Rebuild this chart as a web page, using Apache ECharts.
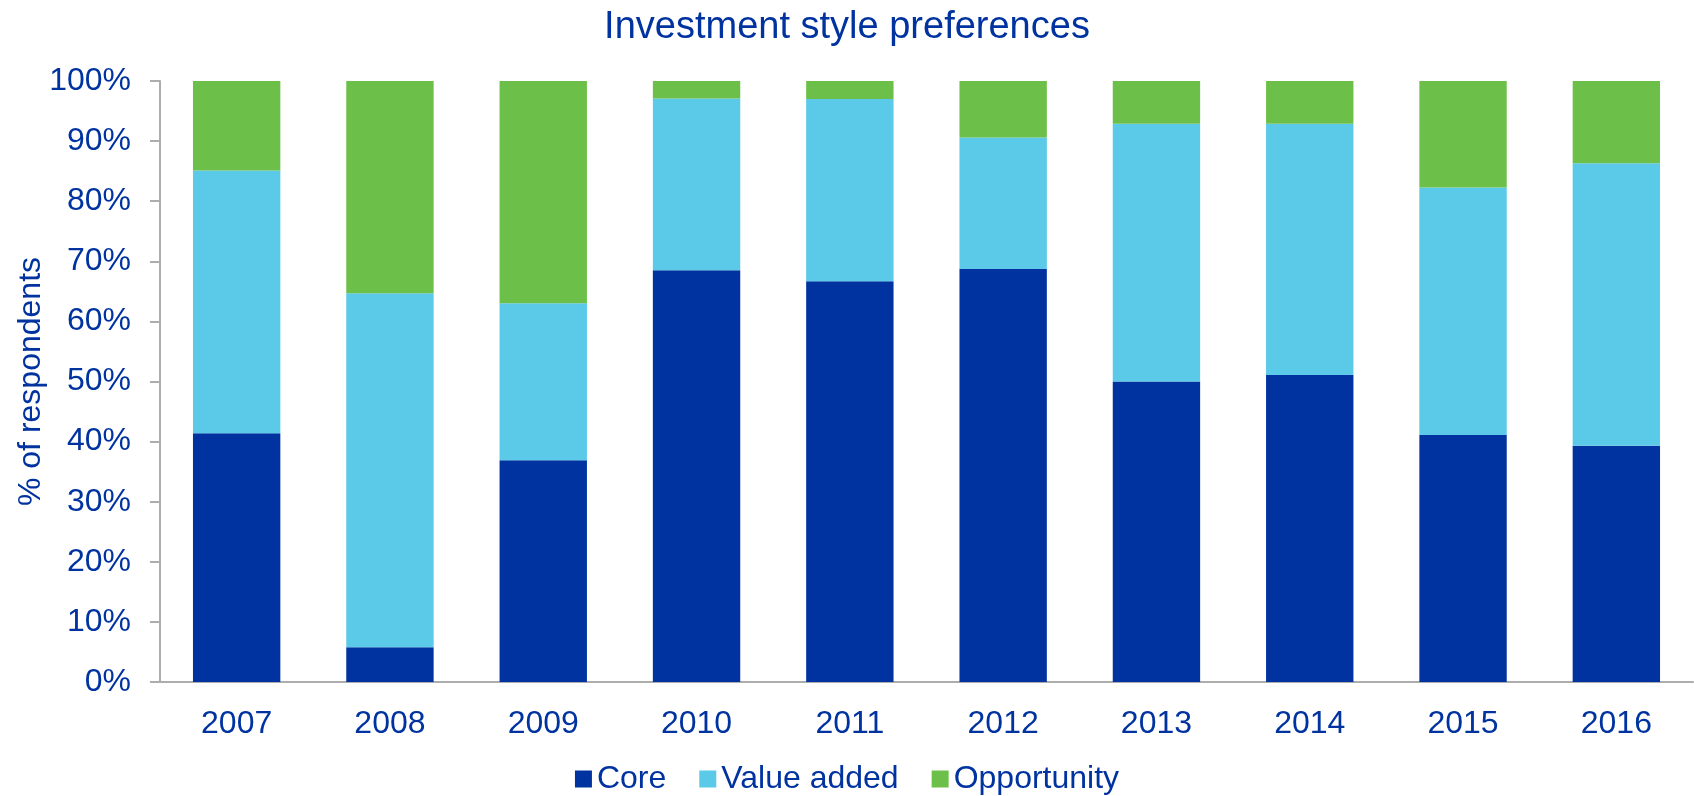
<!DOCTYPE html>
<html>
<head>
<meta charset="utf-8">
<script src="https://cdn.jsdelivr.net/npm/echarts@6/dist/echarts.min.js"></script>
<style>
html,body{margin:0;padding:0;background:#fff;}
#chart{width:1694px;height:796px;}
</style>
</head>
<body>
<div id="chart"></div>
<script>
const years = ['2007','2008','2009','2010','2011','2012','2013','2014','2015','2016'];
const core = [41.4, 5.8, 36.9, 68.5, 66.7, 68.7, 50.0, 51.1, 41.1, 39.3];
const valueAdded = [43.7, 58.9, 26.1, 28.6, 30.3, 21.9, 42.9, 41.8, 41.2, 47.0];
const opportunity = [14.9, 35.3, 37.0, 2.9, 3.0, 9.4, 7.1, 7.1, 17.7, 13.7];
const seriesNames = ['Core', 'Value added', 'Opportunity'];
const colors = ['#0033A0', '#5BC9E8', '#6CC04A'];

const txt = '#0033A0';
const font = 'Liberation Sans, Arial, sans-serif';
const chart = echarts.init(document.getElementById('chart'));
const mk = (name, data, color) => ({
  name, type: 'bar', stack: 'total', data,
  barCategoryGap: '43%',
  itemStyle: { color },
  emphasis: { disabled: true }
});
chart.setOption({
  animation: false,
  textStyle: { fontFamily: font },
  title: {
    text: 'Investment style preferences',
    left: 'center', top: 4,
    textStyle: { color: txt, fontSize: 38, fontWeight: 'normal', fontFamily: font }
  },
  legend: {
    data: seriesNames,
    top: 758, left: 'center',
    icon: 'rect', itemWidth: 17, itemHeight: 17, itemGap: 33,
    textStyle: { color: txt, fontSize: 32, fontFamily: font }
  },
  grid: { left: 160, right: 1, top: 81, bottom: 114, containLabel: false, outerBoundsMode: 'none' },
  xAxis: {
    type: 'category', data: years,
    axisLine: { lineStyle: { color: '#ADADAD', width: 2 } },
    axisTick: { show: false },
    axisLabel: { color: txt, fontSize: 32, margin: 26, fontFamily: font }
  },
  yAxis: {
    type: 'value', min: 0, max: 100, interval: 10,
    name: '% of respondents', nameLocation: 'middle', nameGap: 113, nameMoveOverlap: false,
    nameTextStyle: { color: txt, fontSize: 32, fontFamily: font },
    axisLine: { show: true, lineStyle: { color: '#ADADAD', width: 2 } },
    axisTick: { show: true, length: 10, lineStyle: { color: '#ADADAD', width: 2 } },
    splitLine: { show: false },
    axisLabel: { color: txt, fontSize: 32, margin: 29, formatter: '{value}%', fontFamily: font }
  },
  series: [
    mk(seriesNames[0], core, colors[0]),
    mk(seriesNames[1], valueAdded, colors[1]),
    mk(seriesNames[2], opportunity, colors[2])
  ]
});
</script>
</body>
</html>
